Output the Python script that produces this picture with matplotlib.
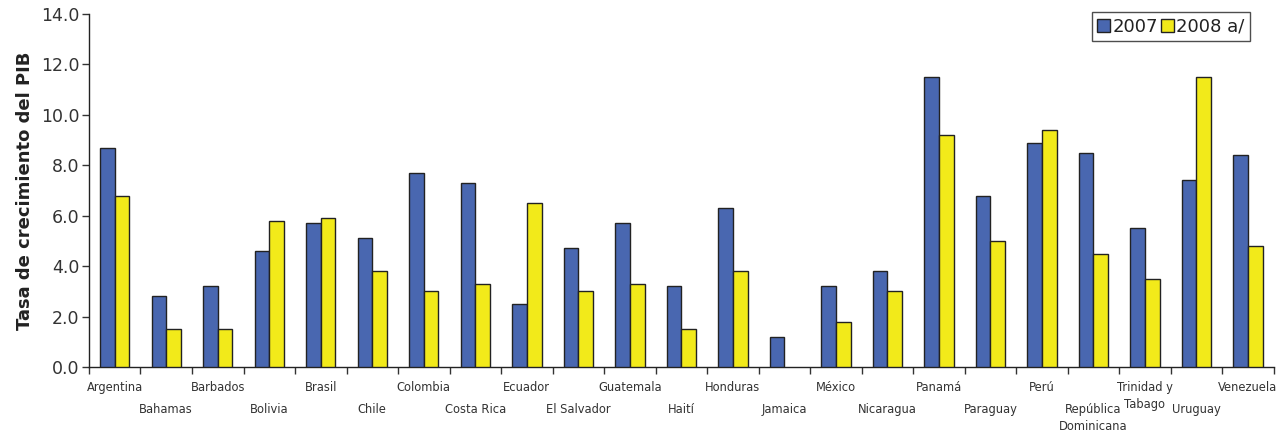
import matplotlib
matplotlib.use("Agg")
import matplotlib.pyplot as plt
import matplotlib.transforms as mtransforms
import numpy as np

countries = ["Argentina", "Bahamas", "Barbados", "Bolivia", "Brasil", "Chile",
             "Colombia", "Costa Rica", "Ecuador", "El Salvador", "Guatemala",
             "Haití", "Honduras", "Jamaica", "México", "Nicaragua", "Panamá",
             "Paraguay", "Perú", "República\nDominicana", "Trinidad y\nTabago",
             "Uruguay", "Venezuela"]
v2007 = [8.7, 2.8, 3.2, 4.6, 5.7, 5.1, 7.7, 7.3, 2.5, 4.7, 5.7, 3.2, 6.3, 1.2,
         3.2, 3.8, 11.5, 6.8, 8.9, 8.5, 5.5, 7.4, 8.4]
v2008 = [6.8, 1.5, 1.5, 5.8, 5.9, 3.8, 3.0, 3.3, 6.5, 3.0, 3.3, 1.5, 3.8, 0.0,
         1.8, 3.0, 9.2, 5.0, 9.4, 4.5, 3.5, 11.5, 4.8]
series_names = ["2007", "2008 a/"]
yticks = [0, 2, 4, 6, 8, 10, 12, 14]

plt.rcParams['font.family'] = ['DejaVu Sans']
fig = plt.figure(figsize=(12.84, 4.32), dpi=100)
ax = fig.add_axes([0.0693, 0.1505, 0.9227, 0.8171])

n = len(countries)
x = np.arange(n)
w = 0.285
blue = "#4967B0"
yellow = "#F2EA1A"
edge = "#222222"
txt = "#333333"

ax.bar(x - w/2, v2007, w, color=blue, edgecolor=edge, linewidth=1.0,
       label=series_names[0], zorder=3)
v2008_plot = [v if v > 0 else np.nan for v in v2008]
ax.bar(x + w/2, v2008_plot, w, color=yellow, edgecolor=edge, linewidth=1.0,
       label=series_names[1], zorder=3)

ax.set_xlim(-0.5, n - 0.5)
ax.set_ylim(0, 14)
ax.set_yticks(yticks)
ax.set_yticklabels([f"{t:.1f}" for t in yticks], fontsize=12.5, color=txt)
ax.set_xticks(np.arange(n + 1) - 0.5)
ax.set_xticklabels([])
ax.tick_params(axis='x', direction='out', length=5, width=1, color="#333333")
ax.tick_params(axis='y', direction='out', length=5, width=1, color="#333333", pad=2)

for s in ["top", "right"]:
    ax.spines[s].set_visible(False)
for s in ["left", "bottom"]:
    ax.spines[s].set_color("#222222")
    ax.spines[s].set_linewidth(1.0)

ax.set_ylabel("Tasa de crecimiento del PIB", fontsize=13, fontweight="bold",
              color="#222222", labelpad=5)

trans = mtransforms.blended_transform_factory(ax.transData, ax.transAxes)
for i, name in enumerate(countries):
    yoff = -14 if i % 2 == 0 else -36
    off = mtransforms.offset_copy(trans, fig=fig, x=0, y=yoff, units='dots')
    ax.text(i, 0, name, transform=off, ha='center', va='top', fontsize=8.3,
            color=txt, linespacing=1.4)

leg = ax.legend(loc='upper right', bbox_to_anchor=(0.980, 1.005), ncol=2,
                fontsize=13, frameon=True, fancybox=False, edgecolor="#222222",
                handlelength=0.7, handleheight=0.7, handletextpad=0.15,
                columnspacing=0.15, borderpad=0.3, borderaxespad=0.0)
leg.get_frame().set_linewidth(1.0)
for t in leg.get_texts():
    t.set_color("#222222")

fig.savefig("out.png", dpi=100)
